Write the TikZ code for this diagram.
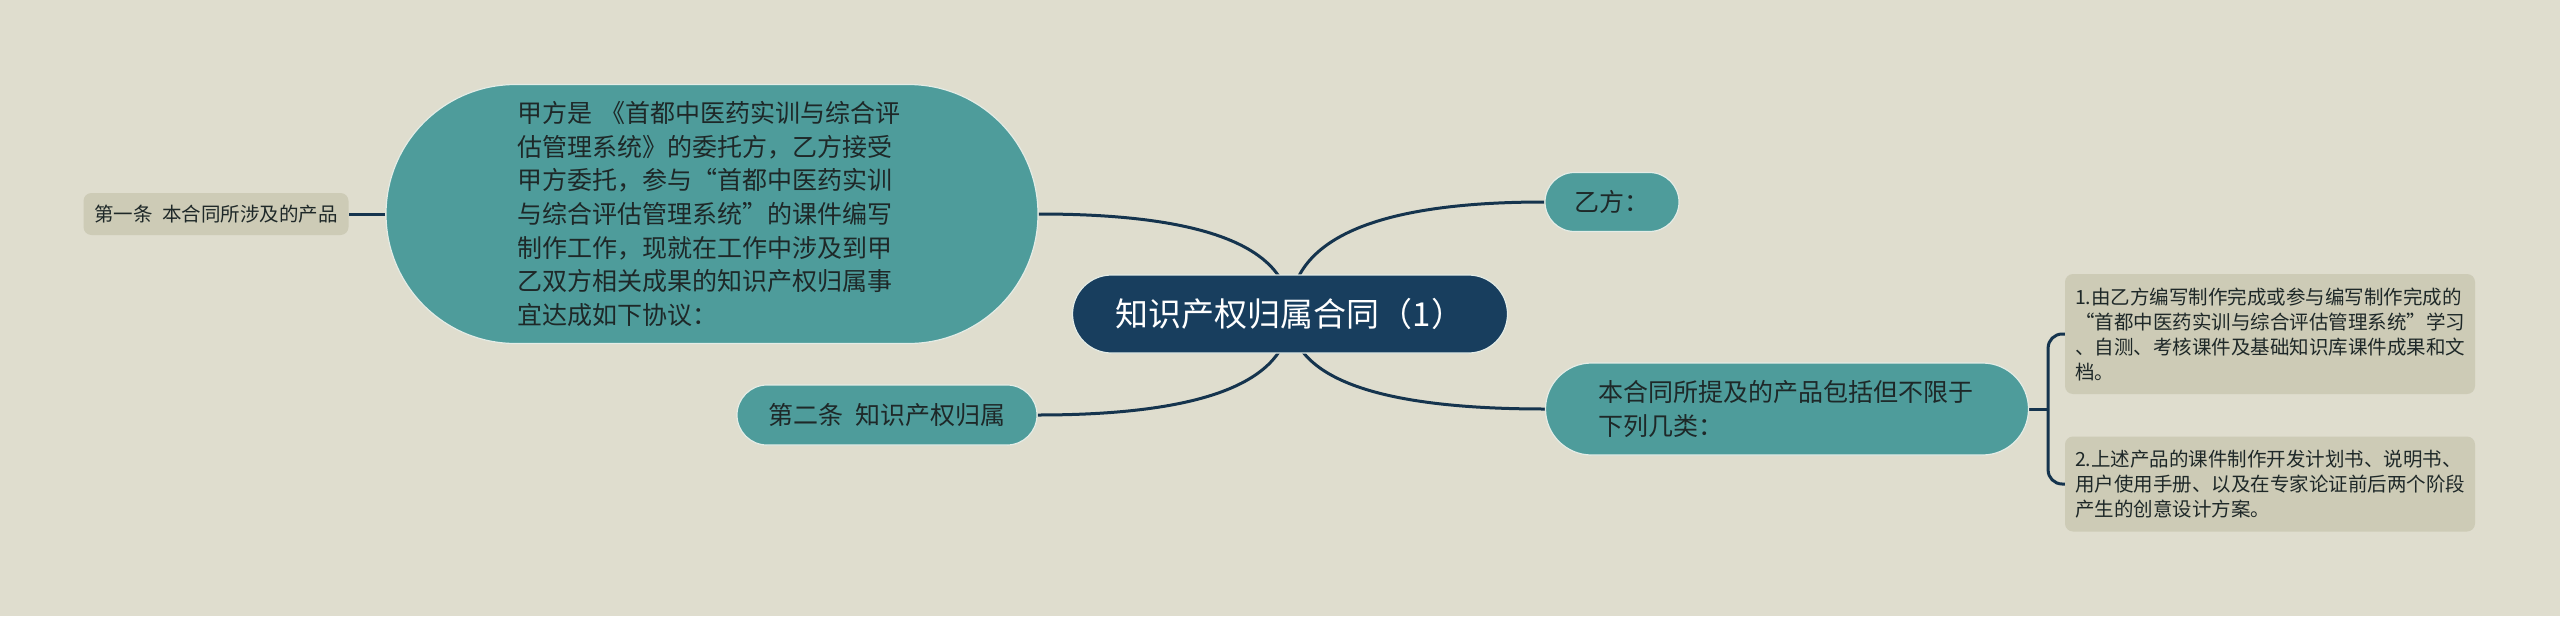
\documentclass[tikz,border=0pt]{standalone}
\usepackage{fontspec}
\setmainfont{Noto Sans CJK SC}
\usepackage{tikz}
\usepackage{xcolor}
\usetikzlibrary{shapes.misc, positioning, calc, backgrounds}
\definecolor{cPaper}{RGB}{223,221,206}
\definecolor{cNavy}{RGB}{24,62,94}
\definecolor{cTeal}{RGB}{78,156,155}
\definecolor{cKhaki}{RGB}{205,203,182}
\definecolor{cLine}{RGB}{21,52,78}
\definecolor{cInk}{RGB}{30,40,40}
\definecolor{cRim}{RGB}{228,236,230}
\tikzset{
	rootnode/.style={rounded rectangle, draw=cRim, line width=1.2pt, fill=cNavy, text=white, inner sep=0pt, font=\fontsize{33}{40}\selectfont},
	topic/.style   ={rounded rectangle, draw=cRim, line width=1.2pt, fill=cTeal, text=cInk, inner sep=0pt, align=left, font=\fontsize{25}{33.7}\selectfont},
	subtopic/.style={rectangle, rounded corners=8pt, fill=cKhaki, text=cInk, inner sep=0pt, align=left, font=\fontsize{19.5}{25}\selectfont},
	% connectors
	branch/.style  ={line width=3pt, cLine},
	quadto/.style  ={to path={.. controls ($(\tikztostart)!0.667!(\tikztostart |- \tikztotarget)$) and ($(\tikztotarget)!0.667!(\tikztostart |- \tikztotarget)$) .. (\tikztotarget)}},
}
\begin{document}
\begin{tikzpicture}[x=1pt, y=-1pt]
	\node[rootnode, minimum width=435pt, minimum height=78pt] (root) at (1290,314) {知识产权归属合同（1）};
	\node[topic, minimum width=652pt, minimum height=259pt, text width=390pt] (partyA) at (712,214) {甲方是\hspace{0.35em}《首都中医药实训与综合评\\估管理系统》的委托方，乙方接受\\甲方委托，参与“首都中医药实训\\与综合评估管理系统”的课件编写\\制作工作，现就在工作中涉及到甲\\乙双方相关成果的知识产权归属事\\宜达成如下协议：};
	\node[topic, minimum width=300pt, minimum height=60pt] (art2) at (887,415) {第二条\hspace{0.5em}知识产权归属};
	\node[topic, minimum width=134pt, minimum height=59pt] (partyB) at (1612,202) {乙方：};
	\node[topic, minimum width=483pt, minimum height=92pt, text width=378pt] (prod) at (1787,409) {本合同所提及的产品包括但不限于\\下列几类：};
	\node[subtopic, minimum width=265pt, minimum height=42pt] (art1) at (216,214) {第一条\hspace{0.5em}本合同所涉及的产品};
	\node[subtopic, minimum width=410pt, minimum height=120pt, text width=390pt] (itemA) at (2270,334) {1.由乙方编写制作完成或参与编写制作完成的\\“首都中医药实训与综合评估管理系统”学习\\、自测、考核课件及基础知识库课件成果和文\\档。};
	\node[subtopic, minimum width=410pt, minimum height=95pt, text width=390pt] (itemB) at (2270,484) {2.上述产品的课件制作开发计划书、说明书、\\用户使用手册、以及在专家论证前后两个阶段\\产生的创意设计方案。};
	\begin{scope}[on background layer]
		\fill[cPaper] (0,0) rectangle (2560,616);
		\draw[branch] (root.center) to[quadto] (partyA.east);
		\draw[branch] (root.center) to[quadto] (art2.east);
		\draw[branch] (root.center) to[quadto] (partyB.west);
		\draw[branch] (root.center) to[quadto] (prod.west);
		\draw[branch] (partyA.west) -- (art1.east);
		\draw[branch] (prod.east) -- ++(19,0) coordinate (fork);
		\draw[branch, rounded corners=14pt] (fork) |- (itemA.west);
		\draw[branch, rounded corners=14pt] (fork) |- (itemB.west);
	\end{scope}
\end{tikzpicture}
\end{document}
